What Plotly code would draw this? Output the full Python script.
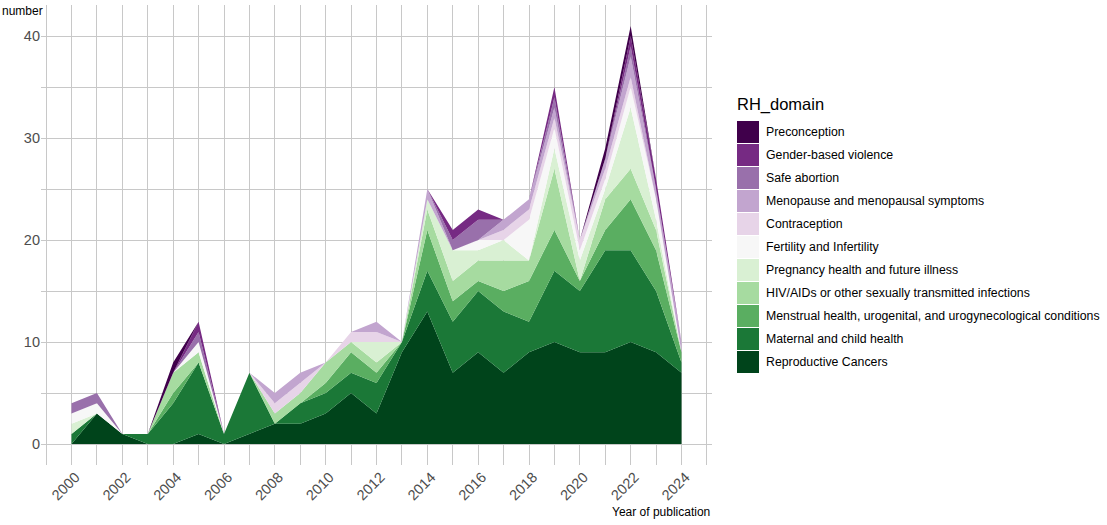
import plotly.graph_objects as go

years = list(range(2000, 2025))

domains = [
    "Reproductive Cancers",
    "Maternal and child health",
    "Menstrual health, urogenital, and urogynecological conditions",
    "HIV/AIDs or other sexually transmitted infections",
    "Pregnancy health and future illness",
    "Fertility and Infertility",
    "Contraception",
    "Menopause and menopausal symptoms",
    "Safe abortion",
    "Gender-based violence",
    "Preconception",
]

reproductive_cancers = [0, 3, 1, 0, 0, 1, 0, 1, 2, 2, 3, 5, 3, 9, 13, 7, 9, 7, 9, 10, 9, 9, 10, 9, 7]
maternal_child      = [1, 0, 0, 1, 4, 7, 1, 6, 0, 2, 2, 2, 3, 1, 4, 5, 6, 6, 3, 7, 6, 10, 9, 6, 1]
menstrual           = [0, 0, 0, 0, 1, 0, 0, 0, 0, 0, 1, 2, 1, 0, 4, 2, 1, 2, 4, 4, 1, 2, 5, 4, 1]
hiv_sti             = [0, 0, 0, 0, 2, 1, 0, 0, 1, 1, 2, 1, 1, 0, 2, 2, 2, 3, 2, 6, 0, 3, 3, 2, 0]
pregnancy           = [1, 0, 0, 0, 0, 0, 0, 0, 0, 0, 0, 0, 2, 0, 1, 3, 1, 2, 0, 2, 2, 1, 6, 1, 0]
fertility           = [1, 1, 0, 0, 0, 1, 0, 0, 0, 0, 0, 0, 0, 0, 0, 0, 1, 0, 4, 2, 1, 1, 2, 2, 0]
contraception       = [0, 0, 0, 0, 0, 0, 0, 0, 1, 1, 0, 1, 1, 0, 0, 0, 0, 1, 1, 1, 1, 1, 1, 0, 0]
menopause           = [0, 0, 0, 0, 0, 0, 0, 0, 1, 1, 0, 0, 1, 0, 1, 0, 0, 1, 1, 1, 0, 1, 2, 1, 1]
safe_abortion       = [1, 1, 0, 0, 0, 1, 0, 0, 0, 0, 0, 0, 0, 0, 0, 1, 2, 0, 0, 1, 0, 0, 1, 0, 0]
gender_violence     = [0, 0, 0, 0, 0, 1, 0, 0, 0, 0, 0, 0, 0, 0, 0, 1, 1, 0, 0, 1, 0, 0, 1, 1, 0]
preconception       = [0, 0, 0, 0, 1, 0, 0, 0, 0, 0, 0, 0, 0, 0, 0, 0, 0, 0, 0, 0, 0, 1, 1, 0, 0]

series = [reproductive_cancers, maternal_child, menstrual, hiv_sti, pregnancy,
          fertility, contraception, menopause, safe_abortion, gender_violence, preconception]

colors = ["#00441B", "#1B7837", "#5AAE61", "#A6DBA0", "#D9F0D3", "#F7F7F7",
          "#E7D4E8", "#C2A5CF", "#9970AB", "#762A83", "#40004B"]

x_ticks = list(range(2000, 2025, 2))
y_ticks = [0, 10, 20, 30, 40]

W, H = 1107, 525
L, R, T, B = 41, 395, 5, 60
PW, PH = W - L - R, H - T - B

def pxx(px):
    return (px - L) / PW

def pxy(py):
    return 1 - (py - T) / PH

fig = go.Figure()
for name, vals, col in zip(domains, series, colors):
    fig.add_trace(go.Scatter(
        x=years, y=vals, name=name, stackgroup="one", mode="lines",
        line=dict(width=0, color=col), fillcolor=col, showlegend=False,
        hoverinfo="skip",
    ))

grid = "#C8C8C8"
font = "Liberation Sans, Arial, sans-serif"

fig.update_layout(
    width=W, height=H,
    margin=dict(l=L, r=R, t=T, b=B),
    paper_bgcolor="white", plot_bgcolor="white",
    font=dict(family=font, color="black"),
    xaxis=dict(
        range=[1998.8, 2025.2], tickmode="array", tickvals=x_ticks,
        ticktext=[str(v) for v in x_ticks], tickangle=-45,
        tickfont=dict(size=14.5, color="#4D4D4D"),
        ticklabelshift=4,
        showgrid=True, gridcolor=grid, gridwidth=1, zeroline=False, showline=False,
        ticks="", ticklen=0,
        minor=dict(tickmode="linear", tick0=1999, dtick=1, showgrid=True,
                   gridcolor=grid, gridwidth=1, ticks=""),
    ),
    yaxis=dict(
        range=[-2.05, 43.05], tickmode="array", tickvals=y_ticks,
        tickfont=dict(size=14.5, color="#4D4D4D"),
        showgrid=True, gridcolor=grid, gridwidth=1, zeroline=False, showline=False,
        ticks="", ticksuffix=" ",
        minor=dict(tickmode="linear", tick0=5, dtick=10, showgrid=True,
                   gridcolor=grid, gridwidth=1, ticks=""),
    ),
    showlegend=False,
)

annotations = [
    dict(text="number", x=pxx(0), y=pxy(11), xref="paper", yref="paper",
         xanchor="left", yanchor="middle", showarrow=False,
         font=dict(size=12, color="black", family=font)),
    dict(text="Year of publication", x=pxx(712), y=pxy(512), xref="paper", yref="paper",
         xanchor="right", yanchor="middle", showarrow=False,
         font=dict(size=12, color="black", family=font)),
    dict(text="RH_domain", x=pxx(735), y=pxy(105), xref="paper", yref="paper",
         xanchor="left", yanchor="middle", showarrow=False,
         font=dict(size=16.5, color="black", family=font)),
]
shapes = []
legend_order = list(range(len(domains)))[::-1]
for i, idx in enumerate(legend_order):
    cy = 132 + 23 * i
    shapes.append(dict(type="rect", xref="paper", yref="paper",
                       x0=pxx(737), x1=pxx(759), y0=pxy(cy + 11), y1=pxy(cy - 11),
                       fillcolor=colors[idx], line=dict(width=0)))
    annotations.append(dict(text=domains[idx], x=pxx(764), y=pxy(cy), xref="paper",
                            yref="paper", xanchor="left", yanchor="middle", showarrow=False,
                            font=dict(size=12.3, color="black", family=font)))

fig.update_layout(annotations=annotations, shapes=shapes)
fig.write_html("out.html", config={"displayModeBar": False},
               post_script="document.body.style.margin='0';")
